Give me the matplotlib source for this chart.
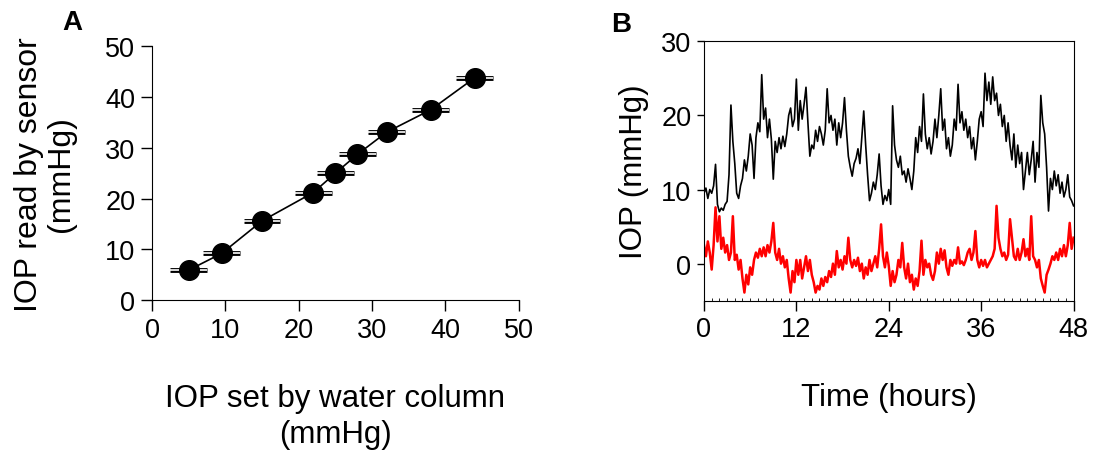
import numpy as np
from matplotlib import pyplot as plt
from matplotlib.ticker import MultipleLocator

plt.rcParams['font.family'] = ['Liberation Sans', 'DejaVu Sans']

# panel A: calibration
iop_set = [5, 9.5, 15, 22, 25, 28, 32, 38, 44]
iop_read = [5.9, 9.2, 15.6, 21.2, 25.0, 28.7, 33.1, 37.5, 43.8]
iop_set_err = [2.5, 2.5, 2.5, 2.5, 2.5, 2.5, 2.5, 2.5, 2.5]

# panel B: 48 h recording, one value every 15 min
hours = np.arange(0, 48.01, 0.25)
iop_black = [
    9.5, 10.2, 8.8, 10.0, 9.5, 10.5, 13.4, 8.0, 7.0, 7.5, 7.2, 8.0,
    8.4, 12.0, 21.4, 16.5, 13.5, 9.5, 8.8, 10.5, 11.5, 14.0, 12.5, 14.5,
    17.5, 16.0, 11.5, 17.0, 19.0, 17.8, 25.5, 19.5, 21.0, 17.0, 19.5, 16.8,
    11.4, 16.5, 15.0, 17.0, 15.5, 17.2, 15.8, 17.5, 20.0, 21.0, 18.5, 19.5,
    24.9, 18.0, 22.0, 19.5, 21.5, 23.8, 19.0, 14.5, 16.0, 15.5, 18.0, 16.5,
    18.5, 17.5, 16.0, 18.0, 23.6, 19.0, 20.0, 18.0, 19.5, 16.0, 19.0, 17.0,
    19.0, 22.4, 18.0, 14.5, 13.0, 11.8, 13.5, 14.2, 15.5, 13.5, 17.0, 20.6,
    16.0, 12.0, 8.5, 9.5, 11.0, 10.0, 12.0, 14.8, 10.5, 8.0, 9.2, 8.5,
    10.0, 8.0, 21.3, 16.0, 14.0, 13.0, 14.5, 12.0, 12.5, 11.0, 12.8, 11.5,
    10.0, 12.5, 17.0, 15.0, 18.5, 16.5, 22.9, 17.5, 15.5, 17.0, 14.8, 16.5,
    19.5, 17.0, 20.0, 23.6, 18.0, 19.5, 15.5, 17.0, 14.5, 16.0, 19.5, 18.0,
    24.2, 19.0, 20.5, 18.0, 19.5, 17.0, 18.5, 15.5, 17.0, 14.0, 16.5, 19.5,
    20.5, 18.5, 25.7, 22.0, 24.5, 21.5, 25.2, 22.0, 23.0, 20.0, 21.5, 18.5,
    20.0, 16.5, 19.0, 16.0, 14.0, 17.5, 13.0, 16.0, 13.5, 15.0, 10.0, 12.5,
    15.0, 12.0, 14.0, 16.5, 11.0, 15.0, 13.0, 22.7, 19.0, 17.5, 13.0, 7.1,
    11.5, 10.0, 12.5, 10.5, 12.0, 9.5, 11.0, 9.0, 10.0, 12.0, 9.0, 8.5,
    7.8]
iop_red = [
    2.5, 1.0, 3.0, 1.5, -0.8, 2.5, 7.6, 3.0, 6.4, 2.0, 3.5, 1.5,
    2.5, 0.5, 1.5, 6.4, 0.5, 1.2, -0.8, 0.5, -2.0, -3.9, -1.5, -2.8,
    -0.5, -1.5, 0.5, 1.5, 0.8, 2.0, 1.0, 2.2, 1.0, 2.5, 1.5, 3.0,
    5.5, 1.5, 0.5, 2.0, 0.0, 1.0, -0.5, 0.5, -2.0, -3.9, -1.0, -2.5,
    0.5, -1.5, 0.5, -2.0, -0.5, 1.0, -1.0, 0.5, -1.5, -2.5, -3.9, -3.0,
    -3.5, -2.0, -3.0, -1.8, -2.5, -1.0, -1.8, 0.0, -1.5, 1.7, -0.5, 0.5,
    -0.8, 1.0, 0.0, 3.5, 0.5, -0.5, 0.5, -0.3, 0.8, -1.0, 0.0, -2.0,
    -0.5, -1.5, 0.5, -1.0, 0.0, 1.0, -0.5, 2.0, 5.3, 1.0, -0.5, 1.5,
    -0.3, -3.0, -1.0, -2.5, -1.5, 0.5, -0.5, 2.8, -0.5, -2.0, 0.0, -2.5,
    -1.5, -3.5, -2.0, -3.0, -1.0, 3.1, -1.5, 0.5, -0.5, 0.0, -1.5, -2.2,
    -1.0, 1.5, 0.0, 2.0, 0.5, 1.8, -0.5, -1.5, 0.5, -0.3, 0.5, 0.0,
    2.2, 0.0, 0.3, -0.2, 0.5, 1.5, 2.0, 0.5, 1.5, 4.4, 0.5, -0.5,
    0.5, -0.3, 0.5, -0.5, 0.0, 0.5, 1.0, 2.0, 7.8, 3.5, 2.0, 1.0,
    1.5, 0.5, 1.2, 6.0, 3.5, 1.0, 0.5, 2.0, 0.5, 1.5, 3.3, 1.0,
    2.0, 0.5, 6.4, 1.0, 0.5, -0.5, 0.5, -2.0, -3.0, -3.9, -1.5, -0.8,
    0.0, 1.0, 0.5, 1.5, 0.5, 2.0, 1.0, 2.5, 1.0, 2.5, 5.5, 2.0,
    3.5]

fig = plt.figure(figsize=(10.94, 4.52), dpi=100)

# ---- panel A
axA = fig.add_axes([0.139, 0.334, 0.335, 0.561])
axA.plot(iop_set, iop_read, color="black", lw=1.2, zorder=2)
axA.errorbar(iop_set, iop_read, xerr=iop_set_err, fmt="none", ecolor="black",
             elinewidth=3.5, capsize=0, zorder=1)
axA.errorbar(iop_set, iop_read, xerr=iop_set_err, fmt="none", ecolor="white",
             elinewidth=1.2, capsize=0, zorder=1.5)
axA.scatter(iop_set, iop_read, s=200, color="black", zorder=3)
axA.set_xlim(0, 50)
axA.set_ylim(0, 50)
axA.set_xticks([0, 10, 20, 30, 40, 50])
axA.set_yticks([0, 10, 20, 30, 40, 50])
axA.spines["top"].set_visible(False)
axA.spines["right"].set_visible(False)
axA.tick_params(labelsize=19.5, length=8, width=1, direction="out", pad=4)
axA.set_xlabel("IOP set by water column\n(mmHg)", fontsize=22.5, labelpad=29,
               linespacing=1.27)
axA.set_ylabel("IOP read by sensor\n(mmHg)", fontsize=23, labelpad=21,
               linespacing=1.1)
fig.text(0.066, 0.95, "A", fontsize=20, fontweight="bold", ha="center", va="center")

# ---- panel B
axB = fig.add_axes([0.6435, 0.3325, 0.3378, 0.5739])
axB.plot(hours, iop_black, color="black", lw=1.2)
axB.plot(hours, iop_red, color="red", lw=1.8)
axB.set_xlim(0, 48)
axB.set_ylim(-5, 30)
axB.set_xticks([0, 12, 24, 36, 48])
axB.set_yticks([0, 10, 20, 30])
axB.xaxis.set_minor_locator(MultipleLocator(1))
axB.tick_params(labelsize=19.5, length=7, width=1, direction="out", pad=4)
axB.tick_params(axis="y", length=5)
axB.tick_params(which="minor", length=2, direction="in")
axB.set_xlabel("Time (hours)", fontsize=22.5, labelpad=29)
axB.set_ylabel("IOP (mmHg)", fontsize=22.5, labelpad=9)
fig.text(0.568, 0.945, "B", fontsize=20, fontweight="bold", ha="center", va="center")

plt.savefig("out.png", dpi=100)
